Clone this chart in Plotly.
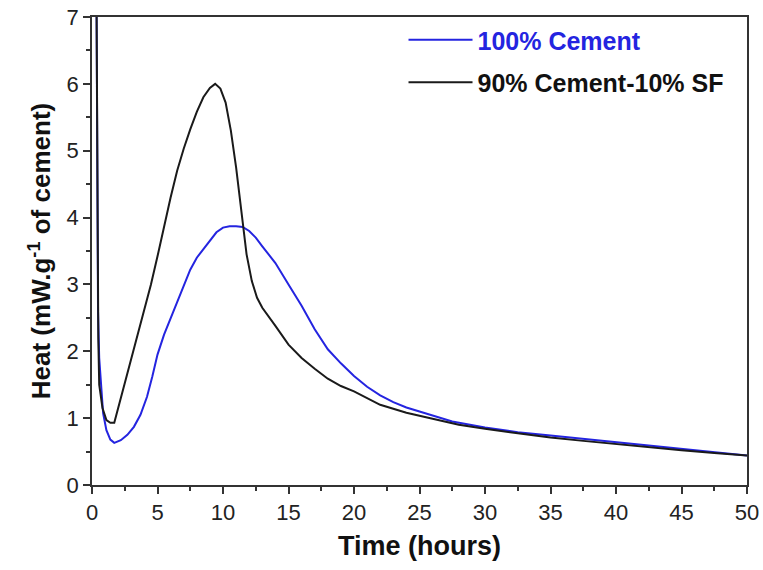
import plotly.graph_objects as go

# ---- data ----
cement_x = [0.30, 0.40, 0.46, 0.55, 0.70, 0.85, 1.1, 1.4, 1.7, 2.2, 2.7, 3.2, 3.7, 4.2, 4.6,
            5.0, 5.5, 6.0, 6.5, 7.0, 7.5, 8.0, 8.5, 9.0, 9.5, 10.0, 10.5, 11.0, 11.5, 12.0,
            12.5, 13.0, 13.5, 14.0, 15.0, 16.0, 17.0, 18.0, 19.0, 20.0, 21.0, 22.0, 23.0,
            24.0, 25.0, 26.0, 27.5, 30.0, 32.5, 35.0, 37.5, 40.0, 42.5, 45.0, 47.5, 50.0]
cement_y = [9.0, 4.0, 2.6, 1.9, 1.45, 1.07, 0.82, 0.68, 0.63, 0.67, 0.75, 0.87, 1.05, 1.32, 1.62,
            1.95, 2.25, 2.5, 2.74, 3.0, 3.22, 3.4, 3.53, 3.65, 3.78, 3.85, 3.87, 3.87, 3.86, 3.8,
            3.7, 3.57, 3.45, 3.32, 3.0, 2.68, 2.33, 2.03, 1.82, 1.63, 1.47, 1.34, 1.24,
            1.16, 1.1, 1.04, 0.95, 0.86, 0.79, 0.74, 0.69, 0.64, 0.59, 0.54, 0.49, 0.44]

sf_x = [0.30, 0.42, 0.48, 0.55, 0.8, 1.1, 1.4, 1.7, 2.0, 2.5, 3.0, 3.5, 4.0, 4.5, 5.0, 5.5,
        6.0, 6.5, 7.0, 7.5, 8.0, 8.5, 9.0, 9.4, 9.8, 10.2, 10.6, 11.0, 11.4, 11.8, 12.2,
        12.6, 13.0, 13.5, 14.0, 15.0, 16.0, 17.0, 18.0, 19.0, 20.0, 22.0, 24.0, 26.0,
        28.0, 30.0, 32.5, 35.0, 37.5, 40.0, 42.5, 45.0, 47.5, 50.0]
sf_y = [9.0, 4.0, 2.2, 1.5, 1.15, 0.97, 0.93, 0.93, 1.15, 1.52, 1.88, 2.25, 2.62, 3.0, 3.42, 3.88,
        4.3, 4.7, 5.03, 5.32, 5.58, 5.8, 5.94, 6.0, 5.93, 5.72, 5.3, 4.75, 4.05, 3.45, 3.05,
        2.8, 2.65, 2.52, 2.38, 2.1, 1.9, 1.74, 1.59, 1.48, 1.4, 1.2, 1.08, 0.99,
        0.9, 0.84, 0.77, 0.71, 0.66, 0.61, 0.56, 0.52, 0.48, 0.44]

x_ticks = [0, 5, 10, 15, 20, 25, 30, 35, 40, 45, 50]
y_ticks = [0, 1, 2, 3, 4, 5, 6, 7]

BLUE = "#2424e0"
BLACK = "#1a1a1a"
FONT = "Liberation Sans"

fig = go.Figure()
fig.add_trace(go.Scatter(
    x=cement_x, y=cement_y, mode="lines", legendgroup="a",
    name=f"<span style='color:{BLUE}'>100% Cement</span>",
    line=dict(color=BLUE, width=2)))
fig.add_trace(go.Scatter(
    x=sf_x, y=sf_y, mode="lines", legendgroup="b",
    name="90% Cement-10% SF",
    line=dict(color=BLACK, width=2)))

axis_common = dict(
    showline=True, linecolor="#333333", linewidth=1.5, mirror=True,
    ticks="outside", ticklen=7, tickwidth=1.5, tickcolor="#333333",
    showgrid=False, zeroline=False, automargin=False,
    tickfont=dict(family=FONT, size=22, color="#222222"),
)

fig.update_xaxes(
    range=[0, 50], tickvals=x_ticks,
    minor=dict(ticks="outside", ticklen=4, tickwidth=1.5, tickcolor="#333333", dtick=2.5, tick0=0),
    title=dict(text="Time (hours)", font=dict(family=FONT, size=27, weight="bold", color="#111111"),
               standoff=12),
    **axis_common)
fig.update_yaxes(
    range=[0, 7], tickvals=y_ticks,
    minor=dict(ticks="outside", ticklen=4, tickwidth=1.5, tickcolor="#333333", dtick=0.5, tick0=0),
    title=dict(text="Heat (mW.g<sup>-1</sup> of cement)",
               font=dict(family=FONT, size=26, weight="bold", color="#111111"), standoff=8),
    **axis_common)

fig.update_layout(
    width=763, height=570,
    margin=dict(l=92, r=16, t=17, b=85),
    plot_bgcolor="white", paper_bgcolor="white",
    showlegend=True,
    legend=dict(x=0.4756, y=1.0, xanchor="left", yanchor="top",
                bgcolor="rgba(0,0,0,0)", borderwidth=0,
                font=dict(family=FONT, size=25, weight="bold", color="#111111"),
                itemwidth=64, tracegroupgap=7, traceorder="grouped"),
)

fig.write_html("out.html")
